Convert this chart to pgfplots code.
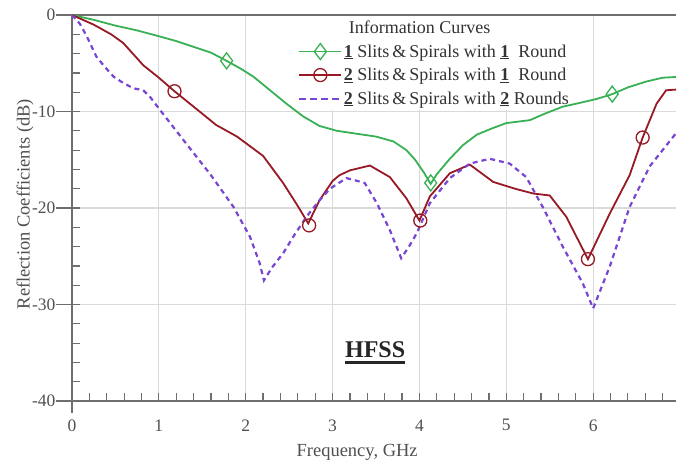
\documentclass[border=0pt]{standalone}
\usepackage{pgfplots}
\pgfplotsset{compat=1.18}
\usepackage{fontspec}
\setmainfont{Liberation Serif}
\definecolor{cgreen}{RGB}{56,176,84}
\definecolor{cred}{RGB}{150,25,35}
\definecolor{cpurple}{RGB}{120,70,210}
\definecolor{cgrid}{RGB}{218,218,218}
\definecolor{caxis}{RGB}{110,110,110}
\definecolor{ctext}{RGB}{80,80,80}
\begin{document}
\begin{tikzpicture}
\useasboundingbox (-72pt,-68pt) rectangle (604pt,401pt);
\begin{axis}[
  at={(0pt,0pt)}, anchor=south west,
  scale only axis, width=608pt, height=386pt,
  xmin=0, xmax=7, ymin=-40, ymax=0,
  xtick={0,1,...,7}, ytick={-40,-30,-20,-10,0},
  minor x tick num=4, minor y tick num=4,
  xtick pos=left, ytick pos=left,
  tick align=inside,
  major tick length=8pt, minor tick length=8pt,
  every tick/.style={caxis, line width=1.2pt},
  extra y ticks={-40,-30,-20,-10,0}, extra y tick labels={},
  extra y tick style={tick align=outside, major tick length=16pt, grid=none},
  extra x ticks={0}, extra x tick labels={},
  extra x tick style={tick align=outside, major tick length=12pt, grid=none},
  grid=major, major grid style={cgrid, line width=1.2pt},
  axis line style={caxis, line width=1.6pt},
  /pgf/number format/assume math mode=true,
  font=\fontsize{17.5}{21}\selectfont,
  ticklabel style={text=ctext},
  yticklabel style={anchor=east, xshift=-13pt},
  xticklabel style={anchor=north, yshift=-15pt},
  xlabel={Frequency, GHz}, ylabel={Reflection Coefficients (dB)},
  xlabel style={at={(axis description cs:0.469,-0.132)}, anchor=center, text=ctext, font=\fontsize{18.5}{22}\selectfont},
  ylabel style={at={(axis description cs:-0.0773,0.51)}, anchor=center, text=ctext, font=\fontsize{18.5}{22}\selectfont},
  legend style={at={(axis description cs:0.367,0.993)}, anchor=north west,
    draw=none, fill=none, font=\fontsize{18}{21}\selectfont, text=black!80,
    inner xsep=3pt, inner ysep=1.5pt, row sep=6.5pt,
    nodes={inner sep=1.5pt}},
  legend cell align=left,
  legend image code/.code={\draw[mark repeat=2,mark phase=2,#1] plot coordinates {(0pt,0pt) (21pt,0pt) (42pt,0pt)};},
]
% white panel behind the legend (covers the grid only)
\fill[white] (axis cs:2.52,-0.15) rectangle (axis cs:5.82,-9.85);

\addlegendimage{empty legend}
\addlegendentry{\hspace{5pt}Information Curves}
\addlegendimage{cgreen, line width=1.8pt, mark=diamond, mark size=8pt, mark options={solid, line width=1.3pt, fill=white}}
\addlegendentry{\underline{\textbf{1}} Slits\,\&\,Spirals with \underline{\textbf{1}}\enspace Round}
\addlegendimage{cred, line width=1.8pt, mark=o, mark size=6.5pt, mark options={solid, line width=1.3pt}}
\addlegendentry{\underline{\textbf{2}} Slits\,\&\,Spirals with \underline{\textbf{1}}\enspace Round}
\addlegendimage{cpurple, line width=2pt, dash pattern=on 7pt off 4pt}
\addlegendentry{\underline{\textbf{2}} Slits\,\&\,Spirals with \underline{\textbf{2}} Rounds}

% 1 slit, 1 round
\addplot[cgreen, line width=1.8pt, forget plot] coordinates {
(0,0) (0.25,-0.5) (0.5,-1.1) (0.75,-1.6) (1.0,-2.2) (1.2,-2.7) (1.4,-3.3) (1.6,-3.9) (1.78,-4.75) (1.95,-5.6) (2.09,-6.4) (2.28,-7.8) (2.47,-9.2) (2.66,-10.5) (2.85,-11.5) (3.05,-12.0) (3.2,-12.2) (3.5,-12.6) (3.7,-13.1) (3.85,-14.0) (3.95,-15.0) (4.05,-16.3) (4.13,-17.5) (4.2,-16.5) (4.35,-14.9) (4.5,-13.5) (4.66,-12.4) (4.85,-11.7) (5.0,-11.2) (5.27,-10.9) (5.45,-10.2) (5.65,-9.5) (5.85,-9.1) (6.04,-8.7) (6.22,-8.2) (6.4,-7.5) (6.61,-6.9) (6.8,-6.5) (7.0,-6.4)
};
\addplot[only marks, cgreen, mark=diamond, mark size=8pt, mark options={line width=1.3pt, fill=white}, forget plot] coordinates {(1.78,-4.75) (4.13,-17.4) (6.22,-8.2)};

% 2 slits, 1 round
\addplot[cred, line width=1.8pt, forget plot] coordinates {
(0,0) (0.25,-1.0) (0.45,-2.0) (0.59,-2.9) (0.82,-5.2) (1.0,-6.5) (1.18,-7.9) (1.4,-9.5) (1.66,-11.4) (1.9,-12.6) (2.2,-14.6) (2.43,-17.4) (2.6,-19.8) (2.72,-21.6) (2.85,-19.2) (3.0,-17.2) (3.08,-16.6) (3.2,-16.1) (3.43,-15.6) (3.66,-16.8) (3.85,-19.0) (4.0,-21.3) (4.12,-18.8) (4.35,-16.4) (4.58,-15.5) (4.85,-17.3) (5.1,-18.0) (5.31,-18.5) (5.5,-18.7) (5.69,-20.9) (5.94,-25.3) (6.19,-20.6) (6.42,-16.6) (6.57,-12.7) (6.73,-9.2) (6.84,-7.8) (7.0,-7.7)
};
\addplot[only marks, cred, mark=o, mark size=6.5pt, mark options={line width=1.3pt}, forget plot] coordinates {(1.18,-7.9) (2.73,-21.8) (4.01,-21.3) (5.94,-25.3) (6.57,-12.7)};

% 2 slits, 2 rounds
\addplot[cpurple, line width=2.2pt, dash pattern=on 5pt off 4pt, forget plot] coordinates {
(0,0) (0.09,-0.9) (0.17,-2.2) (0.28,-4.3) (0.38,-5.4) (0.48,-6.4) (0.6,-7.1) (0.71,-7.6) (0.82,-7.8) (0.9,-8.5) (1.01,-9.8) (1.2,-12.0) (1.4,-14.3) (1.6,-16.6) (1.86,-19.9) (2.05,-23.0) (2.16,-25.7) (2.21,-27.5) (2.3,-26.2) (2.43,-24.7) (2.56,-22.8) (2.70,-20.9) (2.85,-19.2) (2.97,-18.0) (3.16,-16.9) (3.37,-17.4) (3.51,-19.5) (3.66,-22.3) (3.79,-25.2) (3.88,-24.0) (3.97,-22.6) (4.12,-19.5) (4.35,-16.9) (4.58,-15.4) (4.81,-14.9) (5.04,-15.4) (5.23,-16.8) (5.42,-19.9) (5.65,-24.0) (5.88,-27.8) (6.0,-30.4) (6.19,-26.1) (6.42,-19.9) (6.65,-15.7) (6.95,-12.3) (7.0,-11.8)
};

\node[font=\fontsize{24}{28}\selectfont\bfseries, inner sep=0pt, text=black!85] (h) at (axis cs:3.49,-34.7) {HFSS};
\draw[black!85, line width=2.8pt] ([yshift=-4pt]h.south west) -- ([yshift=-4pt]h.south east);
\end{axis}
\end{tikzpicture}
\end{document}
